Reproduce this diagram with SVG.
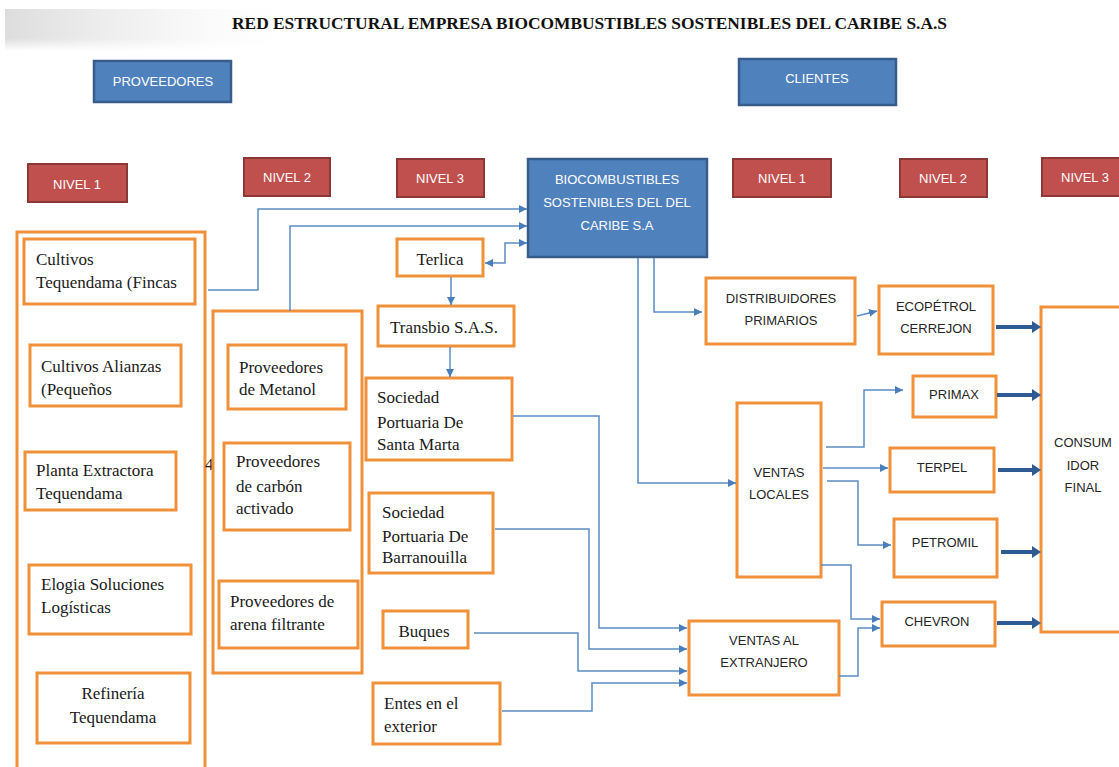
<svg xmlns="http://www.w3.org/2000/svg" width="1119" height="767" viewBox="0 0 1119 767">
<defs>
<linearGradient id="haze" x1="0" y1="0" x2="1" y2="0">
<stop offset="0" stop-color="#d9d9d9" stop-opacity="0.9"/>
<stop offset="0.5" stop-color="#ececec" stop-opacity="0.6"/>
<stop offset="1" stop-color="#ffffff" stop-opacity="0"/>
</linearGradient>
<linearGradient id="hazeV" x1="0" y1="0" x2="0" y2="1">
<stop offset="0" stop-color="#ffffff" stop-opacity="0"/>
<stop offset="0.7" stop-color="#ffffff" stop-opacity="0"/>
<stop offset="1" stop-color="#ffffff" stop-opacity="1"/>
</linearGradient>
<marker id="ah" markerUnits="userSpaceOnUse" markerWidth="9" markerHeight="9" refX="8" refY="4.5" orient="auto-start-reverse">
<path d="M0,0.5 L8,4.5 L0,8.5 Z" fill="#4a7ebb"/>
</marker>
</defs>
<style>
.ob{fill:#fff;stroke:#f0913a;stroke-width:3}
.bb{fill:#4f81bd;stroke:#385d8a;stroke-width:2.5}
.rb{fill:#c0504d;stroke:#8c3836;stroke-width:2}
.ser{font-family:"Liberation Serif","Times New Roman",serif;font-size:17px;fill:#1a1a1a}
.san{font-family:"Liberation Sans",Arial,sans-serif;font-size:13px;fill:#262626}
.wht{font-family:"Liberation Sans",Arial,sans-serif;font-size:13px;fill:#fff}
.ttl{font-family:"Liberation Serif","Times New Roman",serif;font-size:17px;font-weight:bold;fill:#111}
.c{text-anchor:middle}
.ln{fill:none;stroke:#5b8cc4;stroke-width:1.5}
.thk{fill:#2f5b94}
</style>
<rect width="1119" height="767" fill="#fff"/>
<rect x="5" y="9" width="300" height="42" fill="url(#haze)"/>
<rect x="5" y="9" width="300" height="42" fill="url(#hazeV)"/>
<text class="ttl" x="232" y="29" textLength="715" lengthAdjust="spacingAndGlyphs">RED ESTRUCTURAL EMPRESA BIOCOMBUSTIBLES SOSTENIBLES DEL CARIBE S.A.S</text>

<g id="proveedores"><rect class="bb" x="94" y="61" width="137" height="41"/><text class="wht c" x="163" y="86" font-size="12">PROVEEDORES</text></g>
<g id="clientes"><rect class="bb" x="739" y="59" width="157" height="46"/><text class="wht c" x="817" y="83" font-size="12">CLIENTES</text></g>

<g id="nivel1-izq"><rect class="rb" x="28" y="164" width="99" height="38"/><text class="wht c" x="77" y="189">NIVEL 1</text></g>
<g id="nivel2-izq"><rect class="rb" x="244" y="158" width="86" height="38"/><text class="wht c" x="287" y="182">NIVEL 2</text></g>
<g id="nivel3-izq"><rect class="rb" x="397" y="159" width="87" height="38"/><text class="wht c" x="440" y="183">NIVEL 3</text></g>
<g id="nivel1-der"><rect class="rb" x="733" y="159" width="98" height="38"/><text class="wht c" x="782" y="183">NIVEL 1</text></g>
<g id="nivel2-der"><rect class="rb" x="900" y="159" width="87" height="38"/><text class="wht c" x="943" y="183">NIVEL 2</text></g>
<g id="nivel3-der"><rect class="rb" x="1042" y="158" width="90" height="38"/><text class="wht c" x="1085" y="182">NIVEL 3</text></g>

<g id="biocombustibles"><rect class="bb" x="528" y="159" width="179" height="98" stroke-width="3"/>
<text class="wht c" x="617" y="184">BIOCOMBUSTIBLES</text>
<text class="wht c" x="617" y="207">SOSTENIBLES DEL DEL</text>
<text class="wht c" x="617" y="230">CARIBE S.A</text></g>

<g id="grupo-nivel1"><rect class="ob" x="17" y="232" width="188" height="545"/></g>
<g id="cultivos-tequendama"><rect class="ob" x="24" y="239" width="171" height="65"/><text class="ser" x="36" y="265">Cultivos</text><text class="ser" x="36" y="288">Tequendama (Fincas</text></g>
<g id="cultivos-alianzas"><rect class="ob" x="30" y="345" width="151" height="61"/><text class="ser" x="41" y="372">Cultivos Alianzas</text><text class="ser" x="41" y="395">(Pequeños</text></g>
<g id="planta-extractora"><rect class="ob" x="25" y="452" width="151" height="58"/><text class="ser" x="36" y="476">Planta Extractora</text><text class="ser" x="36" y="499">Tequendama</text></g>
<g id="elogia"><rect class="ob" x="29" y="565" width="162" height="69"/><text class="ser" x="41" y="590">Elogia Soluciones</text><text class="ser" x="41" y="613">Logísticas</text></g>
<g id="refineria"><rect class="ob" x="37" y="673" width="153" height="70"/><text class="ser c" x="113" y="699">Refinería</text><text class="ser c" x="113" y="723">Tequendama</text></g>
<text class="ser" x="205" y="470" font-size="11">4</text>

<g id="grupo-nivel2"><rect class="ob" x="213" y="311" width="149" height="362"/></g>
<g id="prov-metanol"><rect class="ob" x="228" y="345" width="118" height="64"/><text class="ser" x="239" y="373">Proveedores</text><text class="ser" x="239" y="395">de Metanol</text></g>
<g id="prov-carbon"><rect class="ob" x="224" y="443" width="126" height="87"/><text class="ser" x="236" y="467">Proveedores</text><text class="ser" x="236" y="492">de carbón</text><text class="ser" x="236" y="514">activado</text></g>
<g id="prov-arena"><rect class="ob" x="219" y="581" width="139" height="67"/><text class="ser" x="230" y="607">Proveedores de</text><text class="ser" x="230" y="630">arena filtrante</text></g>

<g id="terlica"><rect class="ob" x="397" y="239" width="86" height="37"/><text class="ser c" x="440" y="265">Terlica</text></g>
<g id="transbio"><rect class="ob" x="378" y="306" width="136" height="40"/><text class="ser" x="390" y="333">Transbio S.A.S.</text></g>
<g id="sp-santa-marta"><rect class="ob" x="366" y="378" width="146" height="82"/><text class="ser" x="377" y="403">Sociedad</text><text class="ser" x="377" y="428">Portuaria De</text><text class="ser" x="377" y="450">Santa Marta</text></g>
<g id="sp-barranquilla"><rect class="ob" x="369" y="493" width="124" height="80"/><text class="ser" x="382" y="518">Sociedad</text><text class="ser" x="382" y="542">Portuaria De</text><text class="ser" x="382" y="563">Barranouilla</text></g>
<g id="buques"><rect class="ob" x="383" y="611" width="85" height="37"/><text class="ser c" x="424" y="637">Buques</text></g>
<g id="entes"><rect class="ob" x="373" y="683" width="127" height="61"/><text class="ser" x="384" y="709">Entes en el</text><text class="ser" x="384" y="732">exterior</text></g>

<g id="distribuidores"><rect class="ob" x="706" y="278" width="149" height="66"/><text class="san c" x="781" y="303">DISTRIBUIDORES</text><text class="san c" x="781" y="325">PRIMARIOS</text></g>
<g id="ecopetrol"><rect class="ob" x="879" y="286" width="114" height="68"/><text class="san c" x="936" y="311">ECOPÉTROL</text><text class="san c" x="936" y="333">CERREJON</text></g>
<g id="primax"><rect class="ob" x="913" y="376" width="83" height="41"/><text class="san c" x="954" y="399">PRIMAX</text></g>
<g id="ventas-locales"><rect class="ob" x="737" y="403" width="84" height="174"/><text class="san c" x="779" y="477">VENTAS</text><text class="san c" x="779" y="499">LOCALES</text></g>
<g id="terpel"><rect class="ob" x="890" y="448" width="104" height="44"/><text class="san c" x="942" y="472">TERPEL</text></g>
<g id="petromil"><rect class="ob" x="894" y="519" width="103" height="58"/><text class="san c" x="945" y="547">PETROMIL</text></g>
<g id="chevron"><rect class="ob" x="882" y="602" width="113" height="44"/><text class="san c" x="937" y="626">CHEVRON</text></g>
<g id="ventas-extranjero"><rect class="ob" x="689" y="621" width="150" height="74"/><text class="san c" x="764" y="645">VENTAS AL</text><text class="san c" x="764" y="667">EXTRANJERO</text></g>
<g id="consumidor-final"><rect class="ob" x="1041" y="307" width="90" height="325"/><text class="san c" x="1083" y="447">CONSUM</text><text class="san c" x="1083" y="470">IDOR</text><text class="san c" x="1083" y="492">FINAL</text></g>

<g id="conectores">
<path class="ln" marker-end="url(#ah)" d="M208,290 H258 V209 H527"/>
<path class="ln" marker-end="url(#ah)" d="M290,311 V226 H527"/>
<path class="ln" marker-start="url(#ah)" marker-end="url(#ah)" d="M485,263 H505 V243 H527"/>
<path class="ln" marker-end="url(#ah)" d="M451,277 V305"/>
<path class="ln" marker-end="url(#ah)" d="M450,347 V377"/>
<path class="ln" marker-end="url(#ah)" d="M513,416 H599 V628 H687"/>
<path class="ln" marker-end="url(#ah)" d="M495,529 H589 V649 H687"/>
<path class="ln" marker-end="url(#ah)" d="M474,633 H578 V671 H687"/>
<path class="ln" marker-end="url(#ah)" d="M502,711 H592 V683 H687"/>
<path class="ln" marker-end="url(#ah)" d="M638,258 V483 H736"/>
<path class="ln" marker-end="url(#ah)" d="M654,258 V312 H702"/>
<path class="ln" marker-end="url(#ah)" d="M857,316 L877,311"/>
<path class="ln" marker-end="url(#ah)" d="M826,447 H864 V390 H903"/>
<path class="ln" marker-end="url(#ah)" d="M823,468 H888"/>
<path class="ln" marker-end="url(#ah)" d="M827,481 H858 V545 H891"/>
<path class="ln" marker-end="url(#ah)" d="M821,565 H851 V619 H880"/>
<path class="ln" marker-end="url(#ah)" d="M839,676 H858 V628 H880"/>
<path class="thk" d="M996,325 H1032 V321 L1041,327 L1032,333 V329 H996 Z"/>
<path class="thk" d="M997,393 H1032 V389 L1041,395 L1032,401 V397 H997 Z"/>
<path class="thk" d="M998,468 H1032 V464 L1041,470 L1032,476 V472 H998 Z"/>
<path class="thk" d="M1001,550 H1032 V546 L1041,552 L1032,558 V554 H1001 Z"/>
<path class="thk" d="M997,621 H1032 V617 L1041,623 L1032,629 V625 H997 Z"/>
</g>
</svg>
